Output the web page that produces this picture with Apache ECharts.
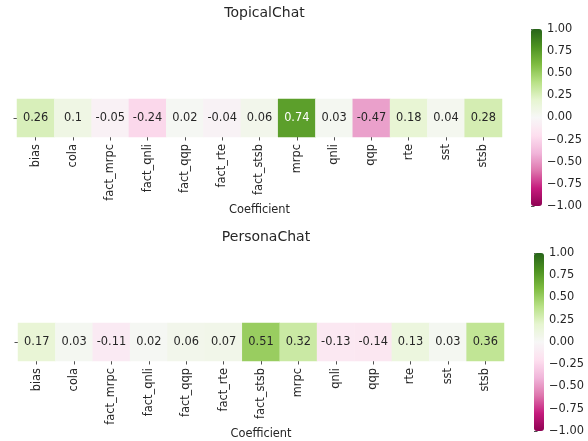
<!DOCTYPE html>
<html>
<head>
<meta charset="utf-8">
<script src="https://cdn.jsdelivr.net/npm/echarts@6/dist/echarts.min.js"></script>
<style>
  html, body { margin: 0; padding: 0; background: #ffffff; }
  #chart { width: 588px; height: 441px; }
</style>
</head>
<body>
<div id="chart"></div>
<script>
// Correlation coefficients per metric, one row per dataset
const coefficients = ['bias', 'cola', 'fact_mrpc', 'fact_qnli', 'fact_qqp', 'fact_rte', 'fact_stsb',
                      'mrpc', 'qnli', 'qqp', 'rte', 'sst', 'stsb'];
const topicalChatValues = [0.26, 0.10, -0.05, -0.24, 0.02, -0.04, 0.06, 0.74, 0.03, -0.47, 0.18, 0.04, 0.28];
const personaChatValues = [0.17, 0.03, -0.11, 0.02, 0.06, 0.07, 0.51, 0.32, -0.13, -0.14, 0.13, 0.03, 0.36];
const panelTitles = ['TopicalChat', 'PersonaChat'];
const colorbarTicks = [-1, -0.75, -0.5, -0.25, 0, 0.25, 0.5, 0.75, 1];

// PiYG diverging palette
const piyg = ['#8e0152', '#c51b7d', '#de77ae', '#f1b6da', '#fde0ef', '#f7f7f7',
              '#e6f5d0', '#b8e186', '#7fbc41', '#4d9221', '#276419'];

const FONT = 'DejaVu Sans';
const TEXT = '#262626';
const FS = 11.4;

function hexToRgb(h) {
  return [parseInt(h.slice(1, 3), 16), parseInt(h.slice(3, 5), 16), parseInt(h.slice(5, 7), 16)];
}
function paletteColor(v) {
  const t = Math.max(0, Math.min(1, (v + 1) / 2)) * (piyg.length - 1);
  const i = Math.min(piyg.length - 2, Math.floor(t));
  const f = t - i;
  const a = hexToRgb(piyg[i]), b = hexToRgb(piyg[i + 1]);
  return a.map((c, k) => c + (b[k] - c) * f);
}
function luminance(rgb) {
  const lin = rgb.map(c => {
    c /= 255;
    return c <= 0.03928 ? c / 12.92 : Math.pow((c + 0.055) / 1.055, 2.4);
  });
  return 0.2126 * lin[0] + 0.7152 * lin[1] + 0.0722 * lin[2];
}
function annot(v) {
  return String(Number(v.toPrecision(2)));
}

// Geometry of each panel: heatmap box and colorbar box
const panels = [
  { values: topicalChatValues, heat: { left: 17, top: 99, width: 485, height: 38 },
    bar: { left: 531, top: 29, width: 11, height: 177 }, titleTop: 1 },
  { values: personaChatValues, heat: { left: 18, top: 323, width: 486, height: 38 },
    bar: { left: 534, top: 253, width: 10, height: 178 }, titleTop: 225 }
];

const grid = [], xAxis = [], yAxis = [], series = [], visualMap = [], title = [];

panels.forEach((p, k) => {
  const hg = grid.length;
  grid.push(Object.assign({ containLabel: false }, p.heat));
  const bg = grid.length;
  grid.push(Object.assign({ containLabel: false }, p.bar));

  title.push({
    text: panelTitles[k],
    left: p.heat.left + p.heat.width / 2,
    top: p.titleTop,
    textAlign: 'center',
    textStyle: { fontFamily: FONT, fontSize: 14, fontWeight: 'normal', color: TEXT }
  });

  xAxis.push({
    gridIndex: hg, type: 'category', data: coefficients, position: 'bottom',
    axisLine: { show: false },
    axisTick: { show: true, alignWithLabel: true, length: 3.5, lineStyle: { color: TEXT, width: 0.8 } },
    axisLabel: { rotate: 90, margin: 7, fontFamily: FONT, fontSize: FS, color: TEXT, interval: 0 },
    splitArea: { show: false },
    name: 'Coefficient', nameLocation: 'middle', nameGap: 60,
    nameTextStyle: { fontFamily: FONT, fontSize: FS, color: TEXT }
  });
  yAxis.push({
    gridIndex: hg, type: 'category', data: [''],
    axisLine: { show: false },
    axisTick: { show: true, alignWithLabel: true, length: 3.5, lineStyle: { color: TEXT, width: 0.8 } },
    axisLabel: { show: false }
  });

  // colorbar scale
  xAxis.push({ gridIndex: bg, type: 'value', show: false, min: 0, max: 1 });
  yAxis.push({
    gridIndex: bg, type: 'value', position: 'right', min: colorbarTicks[0],
    max: colorbarTicks[colorbarTicks.length - 1], interval: colorbarTicks[1] - colorbarTicks[0],
    axisLine: { show: false }, splitLine: { show: false },
    axisTick: { show: true, length: 3.5, lineStyle: { color: TEXT, width: 0.8 } },
    axisLabel: {
      margin: 5, fontFamily: FONT, fontSize: FS, color: TEXT,
      formatter: v => v.toFixed(2).replace('-', '\u2212')
    }
  });

  const sIdx = series.length;
  series.push({
    type: 'heatmap', xAxisIndex: xAxis.length - 2, yAxisIndex: yAxis.length - 2,
    data: p.values.map((v, i) => ({
      value: [i, 0, v],
      label: { color: luminance(paletteColor(v)) > 0.408 ? TEXT : '#ffffff' }
    })),
    label: { show: true, formatter: d => annot(d.value[2]), fontFamily: FONT, fontSize: FS },
    emphasis: { disabled: true },
    itemStyle: { borderWidth: 0 }
  });
  // empty series so the colorbar axes are drawn
  series.push({ type: 'line', xAxisIndex: xAxis.length - 1, yAxisIndex: yAxis.length - 1, data: [], silent: true });

  visualMap.push({
    type: 'continuous', seriesIndex: sIdx, min: -1, max: 1, dimension: 2,
    calculable: false, realtime: false, orient: 'vertical',
    left: p.bar.left, top: p.bar.top, itemWidth: p.bar.width, itemHeight: p.bar.height,
    padding: 0, text: null, showLabel: false, hoverLink: false,
    inRange: { color: piyg }
  });
});

const chart = echarts.init(document.getElementById('chart'), null, { renderer: 'canvas' });
chart.setOption({
  animation: false,
  backgroundColor: '#ffffff',
  title, grid, xAxis, yAxis, series, visualMap
});
</script>
</body>
</html>
